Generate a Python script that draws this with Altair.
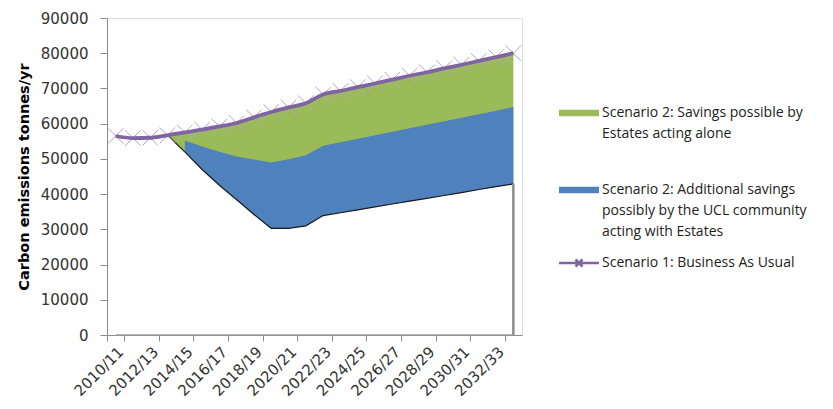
import altair as alt
import pandas as pd

years = ["2010/11", "2011/12", "2012/13", "2013/14", "2014/15", "2015/16",
         "2016/17", "2017/18", "2018/19", "2019/20", "2020/21", "2021/22",
         "2022/23", "2023/24", "2024/25", "2025/26", "2026/27", "2027/28",
         "2028/29", "2029/30", "2030/31", "2031/32", "2032/33", "2033/34"]

# Scenario 1: Business As Usual
bau = [56500, 55900, 56000, 56700, 57500, 58300, 59200, 60200, 61800, 63300,
       64600, 65800, 68300, 69300, 70400, 71400, 72500, 73600, 74600, 75700,
       76700, 77800, 78900, 80000]
# Emissions after Estates acting alone (top of blue band)
estates_only = [None, None, None, None, 55200, 53500, 52000, 50700, 49800, 49000,
                49900, 51000, 53700, 54700, 55700, 56700, 57700, 58700, 59700,
                60700, 61700, 62700, 63700, 64700]
# Emissions remaining with UCL community acting with Estates
remaining = [None, None, None, 56700, 52000, 47000, 42500, 38400, 34200, 30300,
             30300, 31000, 33900, 34700, 35500, 36400, 37200, 38000, 38800,
             39600, 40400, 41300, 42100, 42900]

y_ticks = [0, 10000, 20000, 30000, 40000, 50000, 60000, 70000, 80000, 90000]

# legend texts, one entry per printed line
lbl_green = ["Scenario 2: Savings possible by", "Estates acting alone"]
lbl_blue = ["Scenario 2: Additional savings", "possibly by the UCL community",
            "acting with Estates"]
lbl_line = ["Scenario 1: Business As Usual"]

c_green = "#9BBB59"
c_blue = "#4F81BD"
c_purple = "#8064A2"
c_marker = "#B4A2CF"

df = pd.DataFrame({"year": years, "bau": bau,
                   "estates": estates_only, "remaining": remaining})
base_row = pd.DataFrame({"year": [years[0], years[-1]], "zero": [0, 0]})
end_row = pd.DataFrame({"year": [years[-1]], "zero": [0], "remaining": [remaining[-1]]})

FONT = "DejaVu Sans"
LFONT = "Open Sans"

xenc = alt.X("year:N", sort=years,
             scale=alt.Scale(type="band", domain=years, paddingInner=0, paddingOuter=0),
             axis=alt.Axis(title=None, values=years[::2], labelAngle=-45,
                           tickBand="extent", tickSize=6, labelPadding=3,
                           labelFontSize=15, labelFont=FONT, labelColor="#333333",
                           domainColor="#8c8c8c", tickColor="#8c8c8c",
                           labelAlign="right", labelBaseline="top",
                           labelOverlap=False))
yscale = alt.Scale(domain=[0, 90000], nice=False, zero=True)
yaxis = alt.Axis(title="Carbon emissions tonnes/yr", values=y_ticks,
                 grid=False, tickSize=7, labelPadding=12, labelFontSize=15,
                 labelFont=FONT, labelColor="#333333", domainColor="#8c8c8c",
                 tickColor="#8c8c8c", titleFont=FONT, titleFontSize=14.5,
                 titleFontWeight="bold", titleColor="#000000", titlePadding=9,
                 format="d", labelOverlap=False, labelFlush=False)


def Y(field):
    return alt.Y(field, scale=yscale, axis=yaxis)


swatch = "M-1,-0.65L7,-0.65L7,0.65L-1,0.65Z"
xline = "M-1,0L7,0M2.3,-0.7L3.7,0.7M2.3,0.7L3.7,-0.7"


def legend(y, sym, sw=0):
    return alt.Legend(title=None, orient="none", legendX=450, legendY=y,
                      symbolType=sym, symbolSize=100, symbolStrokeWidth=sw,
                      labelFont=LFONT, labelFontSize=14, labelColor="#222222",
                      labelOffset=31, labelLimit=400, rowPadding=7,
                      symbolOpacity=1)


green = alt.Chart(df).transform_filter("datum.remaining != null").transform_calculate(
    s=f"'{lbl_green[0]}'").mark_area(opacity=1).encode(
    x=xenc,
    y=Y("bau:Q"),
    y2="remaining:Q",
    fill=alt.Fill("s:N", scale=alt.Scale(domain=lbl_green, range=[c_green, "transparent"]),
                  legend=legend(88, swatch))
)

blue = alt.Chart(df).transform_filter("datum.estates != null").transform_calculate(
    s=f"'{lbl_blue[0]}'").mark_area(opacity=1).encode(
    x=xenc,
    y=Y("estates:Q"),
    y2="remaining:Q",
    fill=alt.Fill("s:N", scale=alt.Scale(domain=lbl_blue,
                                         range=[c_blue, "transparent", "transparent"]),
                  legend=legend(165, swatch))
)

bottom_line = alt.Chart(df).transform_filter("datum.remaining != null").mark_line(
    color="#1a1a1a", strokeWidth=1.2).encode(
    x=xenc, y=Y("remaining:Q"))

zero_line = alt.Chart(base_row).mark_line(color="#9a9a9a", strokeWidth=1.5).encode(
    x=xenc, y=Y("zero:Q"))

end_rule = alt.Chart(end_row).mark_rule(color="#8c8c8c", strokeWidth=2.5).encode(
    x=xenc, y=Y("zero:Q"), y2="remaining:Q")

markers = alt.Chart(df).mark_point(
    shape="M-1,-1L1,1M-1,1L1,-1", size=240, filled=False, strokeWidth=1,
    color=c_marker, opacity=1).encode(
    x=xenc, y=Y("bau:Q"))

line = alt.Chart(df).transform_calculate(s=f"'{lbl_line[0]}'").mark_line(
    strokeWidth=3.8, interpolate="monotone").encode(
    x=xenc, y=Y("bau:Q"),
    stroke=alt.Stroke("s:N", scale=alt.Scale(domain=lbl_line, range=[c_purple]),
                      legend=legend(238, xline, 2.5)))

chart = alt.layer(green, blue, bottom_line, zero_line, end_rule, markers, line).resolve_scale(
    fill="independent", stroke="independent").resolve_legend(
    fill="independent", stroke="independent").properties(
    width=415, height=317,
    autosize=alt.AutoSizeParams(type="none"),
    padding={"left": 99, "top": 10, "right": 303, "bottom": 66},
).configure_view(stroke=None).configure(background="white")

chart.save("out.html", embed_options={"renderer": "svg", "actions": False})
